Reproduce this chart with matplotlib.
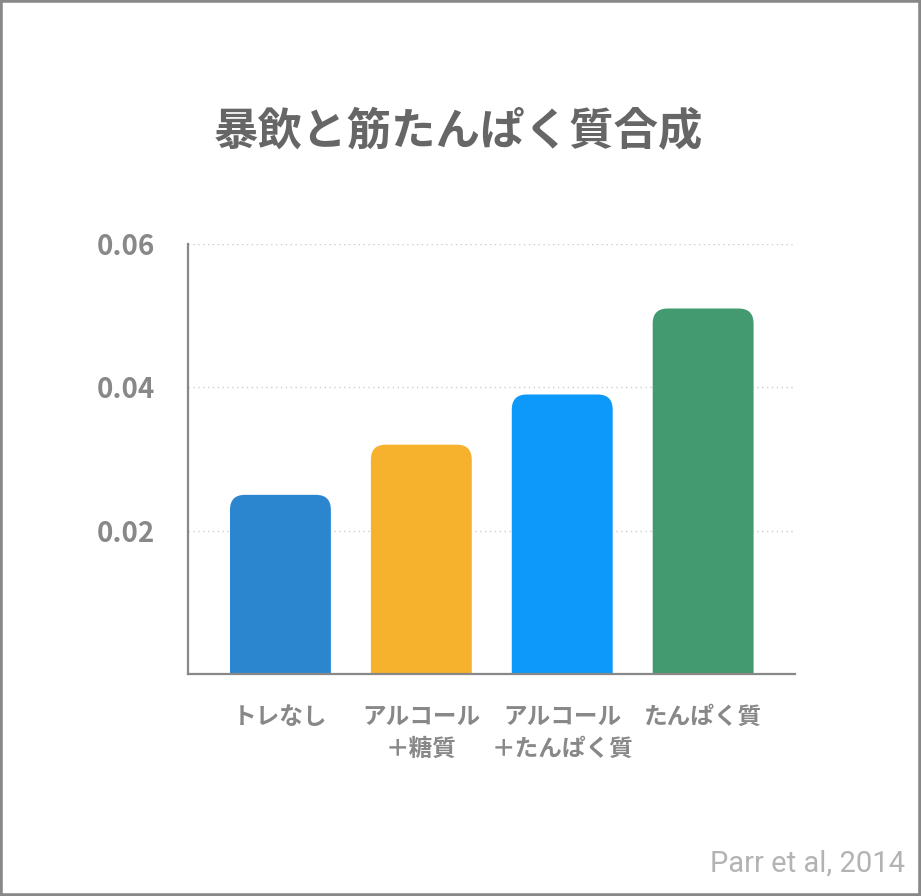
import matplotlib
matplotlib.use("Agg")
import matplotlib.pyplot as plt
from matplotlib.patches import FancyBboxPatch, Rectangle

plt.rcParams['font.family'] = ['Noto Sans CJK JP', 'DejaVu Sans']

# データ
categories = ['トレなし', 'アルコール\n＋糖質', 'アルコール\n＋たんぱく質', 'たんぱく質']
values = [0.025, 0.032, 0.039, 0.051]
colors = ['#2B86CF', '#F6B22D', '#0D99FA', '#439970']
yticks = [0.02, 0.04, 0.06]
ytick_labels = ['0.02', '0.04', '0.06']

W, H = 921, 896
fig = plt.figure(figsize=(W / 100, H / 100), dpi=100)
ax = fig.add_axes([188 / W, 1 - 674 / H, 607 / W, 430 / H])

xmin, xmax = -0.656, 3.652
ymin, ymax = 0, 0.06
ax.set_xlim(xmin, xmax)
ax.set_ylim(ymin, ymax)

# 角丸の棒 (上だけ丸く見えるよう下は軸の外まで伸ばしてクリップ)
px_x = 607 / (xmax - xmin)
px_y = 430 / (ymax - ymin)
r_px = 15
bar_w = 0.716
for i, v in enumerate(values):
    p = FancyBboxPatch((i - bar_w / 2, -0.01), bar_w, v + 0.01,
                       boxstyle=f"round,pad=0,rounding_size={r_px / px_x}",
                       mutation_aspect=px_x / px_y,
                       fc=colors[i], ec='none', clip_on=True, zorder=2)
    ax.add_patch(p)

ax.set_yticks(yticks)
ax.set_yticklabels(ytick_labels, fontsize=20, fontweight='bold', color='#888888')
ax.set_xticks(range(len(categories)))
ax.set_xticklabels(categories, fontsize=17, fontweight='bold', color='#888888',
                   linespacing=1.45)
ax.tick_params(axis='y', length=0, pad=24)
ax.tick_params(axis='x', length=0, pad=22)

ax.yaxis.grid(True, linestyle=(0, (1, 2.5)), color='#cccccc', linewidth=1)
ax.set_axisbelow(True)
for s in ['top', 'right']:
    ax.spines[s].set_visible(False)
for s in ['left', 'bottom']:
    ax.spines[s].set_color('#888888')
    ax.spines[s].set_linewidth(1.6)
    ax.spines[s].set_zorder(3)

fig.text(458 / W, 1 - 132 / H, '暴飲と筋たんぱく質合成', ha='center', va='center',
         fontsize=32, fontweight='bold', color='#666666')
fig.text(905 / W, 1 - 872 / H, 'Parr et al, 2014', ha='right', va='baseline',
         fontsize=21, color='#b3b3b3', family='Roboto')

fig.patches.append(Rectangle((0, 0), 1, 1, transform=fig.transFigure,
                             fill=False, ec='#888888', lw=4))

fig.savefig('out.png', dpi=100)
